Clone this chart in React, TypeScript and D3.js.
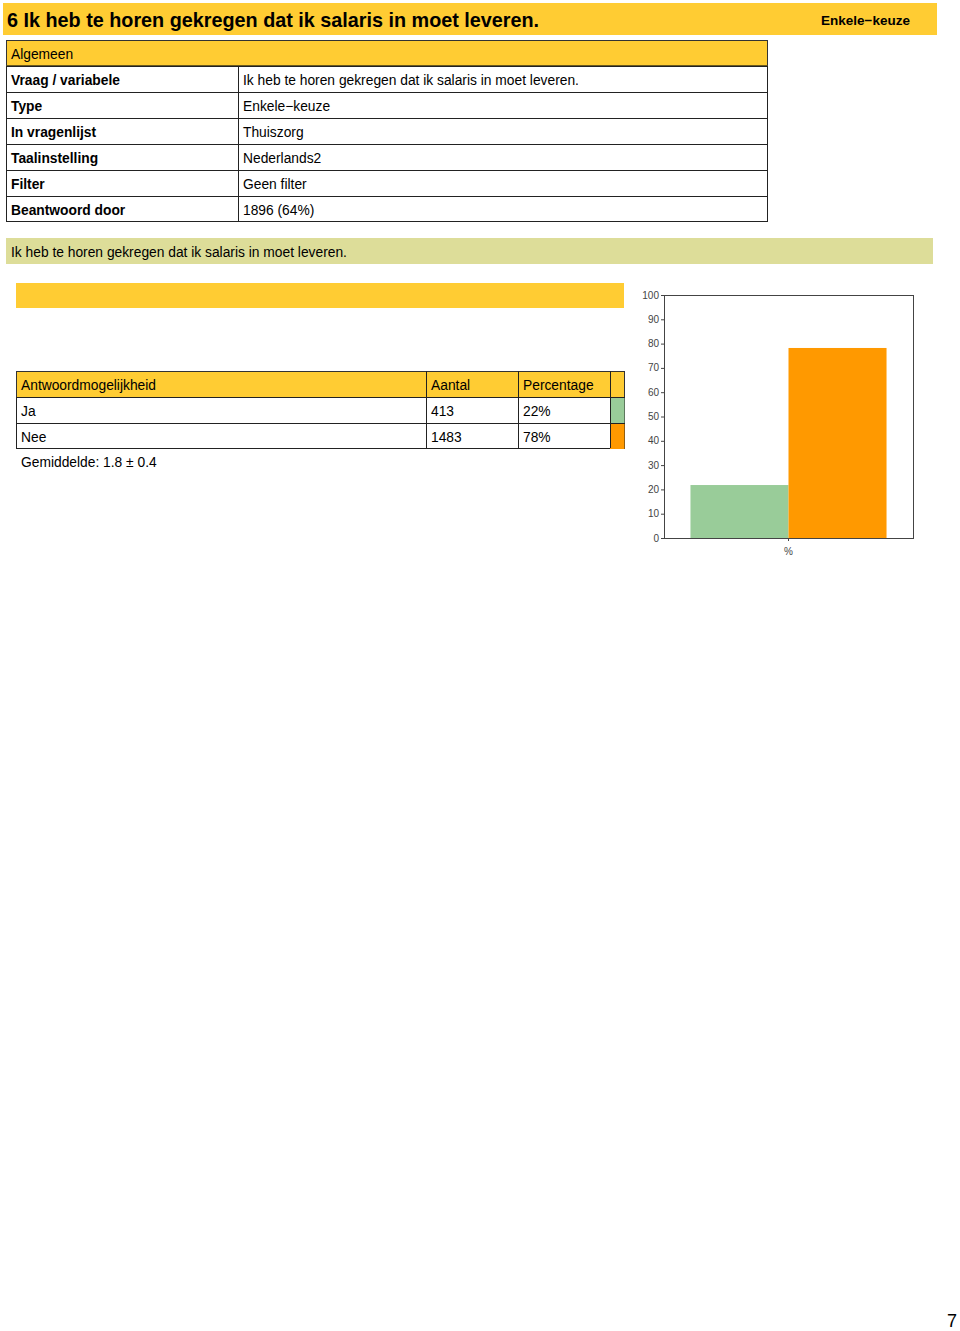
import React from "react";
import * as d3 from "d3";

const title = "6 Ik heb te horen gekregen dat ik salaris in moet leveren.";
const typeLabel = "Enkele\u2212keuze";
const infoLabels = ["Vraag / variabele", "Type", "In vragenlijst", "Taalinstelling", "Filter", "Beantwoord door"];
const infoValues = [
  "Ik heb te horen gekregen dat ik salaris in moet leveren.",
  "Enkele\u2212keuze",
  "Thuiszorg",
  "Nederlands2",
  "Geen filter",
  "1896 (64%)",
];
const answers = ["Ja", "Nee"];
const counts = [413, 1483];
const percentLabels = ["22%", "78%"];
const percents = [21.8, 78.2];
const colors = ["#99CC99", "#FF9900"];
const yTicks = [0, 10, 20, 30, 40, 50, 60, 70, 80, 90, 100];
const mean = "Gemiddelde: 1.8 \u00b1 0.4";

const FONT = "Liberation Sans, Arial, Helvetica, sans-serif";
const YELLOW = "#FFCC33";
const FS = 13.8;

export default function App() {
  const x0 = 664, x1 = 913, yTop = 295, yBot = 538;
  const y = d3.scaleLinear().domain([0, 100]).range([yBot, yTop]);
  const xb = d3.scaleBand().domain(["%"]).range([x0, x1]).paddingInner(0).paddingOuter(0.135);
  const sub = d3.scaleBand<number>().domain(d3.range(percents.length)).range([xb("%")!, xb("%")! + xb.bandwidth()]);

  const rowH = 26;
  const infoTop = 40;
  const tblTop = 371;
  const cols = [16, 426, 518, 610, 625];

  return (
    <svg width={960} height={1331} style={{ position: "absolute", left: 0, top: 0, fontFamily: FONT }}>
      <rect x={0} y={0} width={960} height={1331} fill="#fff" />
      {/* title banner */}
      <rect x={3} y={3} width={934} height={32} fill={YELLOW} />
      <text x={7} y={27} fontSize={19.8} fontWeight="bold" fill="#000">{title}</text>
      <text x={910} y={25} fontSize={13.5} fontWeight="bold" textAnchor="end" fill="#000">{typeLabel}</text>

      {/* Algemeen table */}
      <rect x={6.5} y={infoTop + 0.5} width={761} height={rowH} fill={YELLOW} stroke="#333" />
      <line x1={6.5} x2={767.5} y1={infoTop + rowH} y2={infoTop + rowH} stroke="#6b5a1e" strokeWidth={2} />
      <text x={11} y={infoTop + 19} fontSize={FS} fill="#000">Algemeen</text>
      {infoLabels.map((l, i) => {
        const ry = infoTop + rowH * (i + 1);
        return (
          <g key={l}>
            <rect x={6.5} y={ry + 0.5} width={761} height={i === 5 ? 25 : rowH} fill="#fff" stroke="#222" />
            <line x1={238.5} x2={238.5} y1={ry} y2={ry + rowH} stroke="#222" />
            <text x={11} y={ry + 19} fontSize={FS} fontWeight="bold" fill="#000">{l}</text>
            <text x={243} y={ry + 19} fontSize={FS} fill="#000">{infoValues[i]}</text>
          </g>
        );
      })}

      {/* question bar */}
      <rect x={6} y={238} width={927} height={26} fill="#DDDD99" />
      <text x={11} y={257} fontSize={FS} fill="#000">{infoValues[0]}</text>

      <rect x={16} y={283} width={608} height={25} fill={YELLOW} />

      {/* answers table */}
      <rect x={16.5} y={tblTop + 0.5} width={608} height={rowH} fill={YELLOW} stroke="#333" />
      {["Antwoordmogelijkheid", "Aantal", "Percentage"].map((h, j) => (
        <text key={h} x={cols[j] + 5} y={tblTop + 19} fontSize={FS} fill="#000">{h}</text>
      ))}
      {answers.map((a, i) => {
        const ry = tblTop + rowH * (i + 1);
        return (
          <g key={a}>
            <rect x={16.5} y={ry + 0.5} width={608} height={i === 1 ? 25 : rowH} fill="#fff" stroke="#222" />
            <rect x={610} y={ry + 1} width={14.5} height={rowH - 1} fill={colors[i]} />
            <text x={cols[0] + 5} y={ry + 19} fontSize={FS} fill="#000">{a}</text>
            <text x={cols[1] + 5} y={ry + 19} fontSize={FS} fill="#000">{counts[i]}</text>
            <text x={cols[2] + 5} y={ry + 19} fontSize={FS} fill="#000">{percentLabels[i]}</text>
          </g>
        );
      })}
      {[1, 2, 3].map((j) => (
        <line key={j} x1={cols[j] + 0.5} x2={cols[j] + 0.5} y1={tblTop} y2={tblTop + rowH * 3 - 1} stroke="#222" />
      ))}
      <text x={21} y={467} fontSize={FS} fill="#000">{mean}</text>

      {/* chart */}
      {percents.map((p, i) => (
        <rect key={i} x={sub(i)!} y={y(p)} width={sub.bandwidth()} height={yBot - y(p)} fill={colors[i]} />
      ))}
      <rect x={x0 + 0.5} y={yTop + 0.5} width={x1 - x0} height={yBot - yTop} fill="none" stroke="#444" />
      {yTicks.map((t) => (
        <g key={t}>
          <line x1={x0 - 3} x2={x0} y1={y(t) + 0.5} y2={y(t) + 0.5} stroke="#444" />
          <text x={x0 - 5} y={y(t) + 3.5} fontSize={10} textAnchor="end" fill="#444">{t}</text>
        </g>
      ))}
      <line x1={xb("%")! + xb.bandwidth() / 2} x2={xb("%")! + xb.bandwidth() / 2} y1={yBot} y2={yBot + 3} stroke="#444" />
      <text x={xb("%")! + xb.bandwidth() / 2} y={555} fontSize={10} textAnchor="middle" fill="#444">%</text>

      <text x={947} y={1327} fontSize={18} fill="#000">7</text>
    </svg>
  );
}
